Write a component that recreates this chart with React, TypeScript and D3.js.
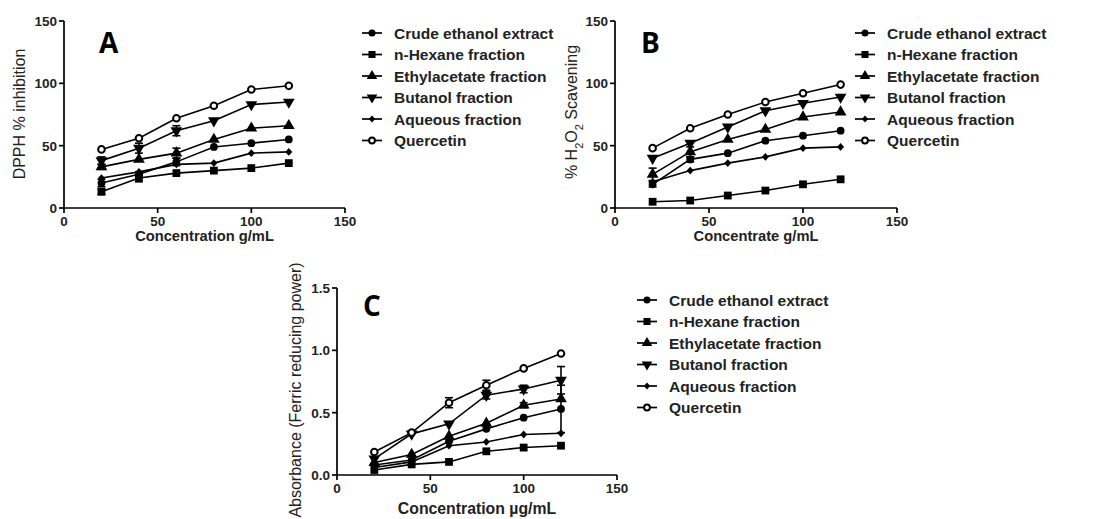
import * as d3 from "d3"

// concentrations (x) shared by all panels
const conc = [20, 40, 60, 80, 100, 120]

const seriesNames = [
  "Crude ethanol extract",
  "n-Hexane fraction",
  "Ethylacetate fraction",
  "Butanol fraction",
  "Aqueous fraction",
  "Quercetin",
]
const markerKinds = ["circle", "square", "triUp", "triDown", "diamond", "open"]

// A: DPPH % inhibition
const dpphValues = [
  [20, 27, 37, 49, 52, 55],
  [13, 24, 28, 30, 32, 36],
  [33, 39, 44, 55, 64, 66],
  [38, 48, 62, 70, 83, 85],
  [24, 29, 35, 36, 44, 45],
  [47, 56, 72, 82, 95, 98],
]
const dpphErrors = [
  [3, 2, 3, 0, 0, 0],
  [2, 3, 0, 0, 0, 0],
  [2, 0, 4, 0, 0, 0],
  [3, 4, 4, 0, 0, 0],
  [0, 0, 0, 0, 0, 0],
  [0, 0, 0, 0, 0, 0],
]

// B: H2O2 scavenging
const h2o2Values = [
  [19, 39, 44, 54, 58, 62],
  [5, 6, 10, 14, 19, 23],
  [27, 45, 55, 63, 73, 77],
  [40, 52, 65, 78, 84, 89],
  [21, 30, 36, 41, 48, 49],
  [48, 64, 75, 85, 92, 99],
]
const h2o2Errors = [
  [2, 2, 0, 0, 0, 0],
  [0, 0, 0, 0, 0, 0],
  [5, 4, 0, 0, 0, 0],
  [0, 0, 0, 0, 0, 0],
  [0, 0, 0, 0, 0, 0],
  [0, 0, 0, 0, 0, 0],
]

// C: ferric reducing power
const frapValues = [
  [0.08, 0.12, 0.27, 0.37, 0.46, 0.53],
  [0.04, 0.085, 0.105, 0.19, 0.22, 0.235],
  [0.1, 0.165, 0.31, 0.415, 0.56, 0.61],
  [0.13, 0.33, 0.41, 0.64, 0.69, 0.76],
  [0.06, 0.105, 0.235, 0.265, 0.325, 0.335],
  [0.185, 0.34, 0.58, 0.72, 0.855, 0.975],
]
const frapErrors = [
  [0, 0, 0, 0, 0, 0.19],
  [0, 0, 0, 0, 0, 0],
  [0, 0, 0, 0, 0.02, 0],
  [0, 0, 0, 0.03, 0.03, 0.11],
  [0, 0, 0, 0, 0, 0],
  [0, 0, 0.04, 0.04, 0, 0],
]

const xTicks = [0, 50, 100, 150]
const pctTicks = [0, 50, 100, 150]
const absTicks = [0, 0.5, 1.0, 1.5]

const FONT = "'Liberation Sans', Arial, sans-serif"

function Marker({ kind, x, y, s = 1 }: { kind: string; x: number; y: number; s?: number }) {
  const r = 3.9 * s
  if (kind === "circle") return <circle cx={x} cy={y} r={r} fill="#000" />
  if (kind === "open")
    return <circle cx={x} cy={y} r={r - 0.6} fill="#fff" stroke="#000" strokeWidth={2} />
  if (kind === "square")
    return <rect x={x - r} y={y - r} width={2 * r} height={2 * r} fill="#000" />
  if (kind === "diamond")
    return (
      <path
        d={`M${x},${y - r}L${x + r * 0.9},${y}L${x},${y + r}L${x - r * 0.9},${y}Z`}
        fill="#000"
      />
    )
  const tri = d3.symbol().type(d3.symbolTriangle).size(60 * s * s)()
  const rot = kind === "triDown" ? 180 : 0
  return <path d={tri ?? ""} transform={`translate(${x},${y}) rotate(${rot})`} fill="#000" />
}

interface PanelProps {
  left: number
  bottom: number
  top: number
  width: number
  yMax: number
  yTicks: number[]
  yFmt: (v: number) => string
  values: number[][]
  errors: number[][]
  letter: string
  letterX: number
  letterY: number
  xTitle: React.ReactNode
  xTitleSize: number
  xTitleDy: number
  yTitle: React.ReactNode
  yTitleX: number
  yTitleY: number
  legendX: number
  legendY: number
}

function Panel(p: PanelProps) {
  const x = d3.scaleLinear().domain([0, 150]).range([p.left, p.left + p.width])
  const y = d3.scaleLinear().domain([0, p.yMax]).range([p.bottom, p.top])
  const line = d3
    .line<number>()
    .x((_, i) => x(conc[i]))
    .y((d) => y(d))
  return (
    <g>
      {/* data */}
      {p.values.map((vals, si) => (
        <g key={si}>
          <path d={line(vals) ?? ""} fill="none" stroke="#000" strokeWidth={1.6} />
          {vals.map((v, i) => {
            const e = p.errors[si][i]
            if (!e) return null
            const cx = x(conc[i])
            return (
              <g key={i} stroke="#000" strokeWidth={1.6}>
                <line x1={cx} x2={cx} y1={y(v - e)} y2={y(v + e)} />
                <line x1={cx - 4} x2={cx + 4} y1={y(v - e)} y2={y(v - e)} />
                <line x1={cx - 4} x2={cx + 4} y1={y(v + e)} y2={y(v + e)} />
              </g>
            )
          })}
          {vals.map((v, i) => (
            <Marker key={"m" + i} kind={markerKinds[si]} x={x(conc[i])} y={y(v)} />
          ))}
        </g>
      ))}
      {/* axes */}
      <line x1={p.left} x2={p.left} y1={p.top} y2={p.bottom} stroke="#000" strokeWidth={1.7} />
      <line
        x1={p.left}
        x2={p.left + p.width}
        y1={p.bottom}
        y2={p.bottom}
        stroke="#000"
        strokeWidth={1.7}
      />
      {p.yTicks.map((t) => (
        <g key={"y" + t}>
          <line x1={p.left - 5} x2={p.left} y1={y(t)} y2={y(t)} stroke="#000" strokeWidth={1.7} />
          <text
            x={p.left - 7}
            y={y(t) + 5}
            textAnchor="end"
            fontSize={13.5}
            fontWeight="bold"
            fontFamily={FONT}
            fill="#222"
          >
            {p.yFmt(t)}
          </text>
        </g>
      ))}
      {xTicks.map((t) => (
        <g key={"x" + t}>
          <line x1={x(t)} x2={x(t)} y1={p.bottom} y2={p.bottom + 5} stroke="#000" strokeWidth={1.7} />
          <text
            x={x(t)}
            y={p.bottom + 18}
            textAnchor="middle"
            fontSize={13.5}
            fontWeight="bold"
            fontFamily={FONT}
            fill="#222"
          >
            {t}
          </text>
        </g>
      ))}
      <text
        x={p.left + p.width / 2}
        y={p.bottom + p.xTitleDy}
        textAnchor="middle"
        fontSize={p.xTitleSize}
        fontWeight="bold"
        fontFamily={FONT}
        fill="#222"
      >
        {p.xTitle}
      </text>
      <text
        transform={`translate(${p.yTitleX},${p.yTitleY}) rotate(-90)`}
        textAnchor="middle"
        fontSize={16}
        fontFamily={FONT}
        fill="#222"
      >
        {p.yTitle}
      </text>
      <text
        x={p.letterX}
        y={p.letterY}
        fontSize={28}
        fontWeight="bold"
        fontFamily="'Open Sans', sans-serif"
        fill="#000"
      >
        {p.letter}
      </text>
      {/* legend */}
      {seriesNames.map((name, i) => {
        const ly = p.legendY + i * 21.5
        return (
          <g key={"l" + i}>
            <line
              x1={p.legendX}
              x2={p.legendX + 20}
              y1={ly}
              y2={ly}
              stroke="#000"
              strokeWidth={1.7}
            />
            <Marker kind={markerKinds[i]} x={p.legendX + 10} y={ly} s={0.9} />
            <text
              x={p.legendX + 32}
              y={ly + 5.5}
              fontSize={15.5}
              fontWeight="bold"
              fontFamily={FONT}
              fill="#222"
            >
              {name}
            </text>
          </g>
        )
      })}
    </g>
  )
}

export default function App() {
  const pct = (v: number) => String(v)
  const abs = (v: number) => v.toFixed(1)
  return (
    <svg
      width={1108}
      height={519}
      style={{ position: "absolute", left: 0, top: 0, background: "#fff" }}
    >
      <Panel
        left={64}
        bottom={208}
        top={21}
        width={281}
        yMax={150}
        yTicks={pctTicks}
        yFmt={pct}
        values={dpphValues}
        errors={dpphErrors}
        letter="A"
        letterX={99}
        letterY={53}
        xTitle="Concentration g/mL"
        xTitleSize={14.7}
        xTitleDy={33}
        yTitle="DPPH % inhibition"
        yTitleX={25}
        yTitleY={114}
        legendX={362}
        legendY={33}
      />
      <Panel
        left={615}
        bottom={208}
        top={21}
        width={282}
        yMax={150}
        yTicks={pctTicks}
        yFmt={pct}
        values={h2o2Values}
        errors={h2o2Errors}
        letter="B"
        letterX={641}
        letterY={53}
        xTitle="Concentrate g/mL"
        xTitleSize={14.7}
        xTitleDy={33}
        yTitle={
          <>
            % H<tspan baselineShift="sub" fontSize={11}>2</tspan>O
            <tspan baselineShift="sub" fontSize={11}>2</tspan> Scavening
          </>
        }
        yTitleX={577}
        yTitleY={112}
        legendX={855}
        legendY={33}
      />
      <Panel
        left={337}
        bottom={475}
        top={288}
        width={280}
        yMax={1.5}
        yTicks={absTicks}
        yFmt={abs}
        values={frapValues}
        errors={frapErrors}
        letter="C"
        letterX={363}
        letterY={316}
        xTitle="Concentration µg/mL"
        xTitleSize={15.8}
        xTitleDy={39}
        yTitle="Absorbance (Ferric reducing power)"
        yTitleX={301}
        yTitleY={390}
        legendX={637}
        legendY={300}
      />
    </svg>
  )
}
